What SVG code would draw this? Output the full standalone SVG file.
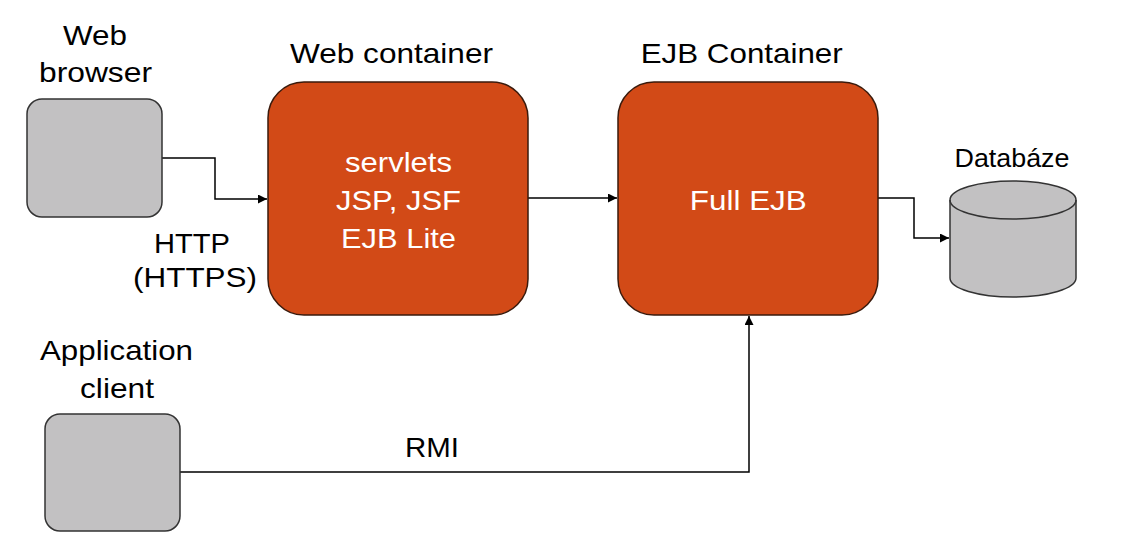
<svg xmlns="http://www.w3.org/2000/svg" width="1138" height="550" viewBox="0 0 1138 550">
<style>
text{font-family:"Liberation Sans",Arial,sans-serif;font-size:28px;text-anchor:middle;}
.lbl{fill:#000;}
.in{fill:#fff;}
.grey{fill:#c2c1c2;stroke:#333;stroke-width:1.5;}
.org{fill:#d24a17;stroke:#3a1a0c;stroke-width:1.5;}
.con{fill:none;stroke:#000;stroke-width:1.5;}
</style>
<defs>
<marker id="arr" viewBox="0 0 10 10" refX="10" refY="5" markerWidth="9" markerHeight="9" markerUnits="userSpaceOnUse" orient="auto">
<path d="M0,0 L10,5 L0,10 Z" fill="#000"/>
</marker>
</defs>
<rect width="1138" height="550" fill="#fff"/>
<g id="connectors">
<polyline class="con" points="162,158 215,158 215,199 267,199" marker-end="url(#arr)"/>
<line class="con" x1="528" y1="198" x2="617" y2="198" marker-end="url(#arr)"/>
<polyline class="con" points="878,198 914,198 914,238 949,238" marker-end="url(#arr)"/>
<polyline class="con" points="180,472 749,472 749,316" marker-end="url(#arr)"/>
<text class="lbl" x="192" y="253" textLength="76" lengthAdjust="spacingAndGlyphs">HTTP</text>
<text class="lbl" x="195" y="287" textLength="124" lengthAdjust="spacingAndGlyphs">(HTTPS)</text>
<text class="lbl" x="432" y="457" textLength="54" lengthAdjust="spacingAndGlyphs">RMI</text>
</g>
<g id="web-browser">
<rect class="grey" x="27" y="99" width="135" height="118" rx="15"/>
<text class="lbl" x="95" y="45" textLength="64" lengthAdjust="spacingAndGlyphs">Web</text>
<text class="lbl" x="95.5" y="82" textLength="113" lengthAdjust="spacingAndGlyphs">browser</text>
</g>
<g id="web-container">
<rect class="org" x="268" y="82" width="260" height="233" rx="36"/>
<text class="lbl" x="391.5" y="63" textLength="203" lengthAdjust="spacingAndGlyphs">Web container</text>
<text class="in" x="398.5" y="172" textLength="107" lengthAdjust="spacingAndGlyphs">servlets</text>
<text class="in" x="398.5" y="210" textLength="125" lengthAdjust="spacingAndGlyphs">JSP, JSF</text>
<text class="in" x="398.5" y="248" textLength="115" lengthAdjust="spacingAndGlyphs">EJB Lite</text>
</g>
<g id="ejb-container">
<rect class="org" x="618" y="82" width="260" height="233" rx="36"/>
<text class="lbl" x="741.7" y="63" textLength="202" lengthAdjust="spacingAndGlyphs">EJB Container</text>
<text class="in" x="748.3" y="210" textLength="117" lengthAdjust="spacingAndGlyphs">Full EJB</text>
</g>
<g id="database">
<path class="grey" d="M950,200 L950,278 A63,19 0 0 0 1076,278 L1076,200 A63,19 0 0 0 950,200 Z"/>
<path class="con" style="stroke:#333" d="M950,200 A63,19 0 0 0 1076,200"/>
<text class="lbl" x="1012" y="167" style="font-size:26px" textLength="115" lengthAdjust="spacingAndGlyphs">Databáze</text>
</g>
<g id="application-client">
<rect class="grey" x="45" y="414" width="135" height="117" rx="15"/>
<text class="lbl" x="116.5" y="360" textLength="153" lengthAdjust="spacingAndGlyphs">Application</text>
<text class="lbl" x="117" y="398" textLength="74" lengthAdjust="spacingAndGlyphs">client</text>
</g>
</svg>
